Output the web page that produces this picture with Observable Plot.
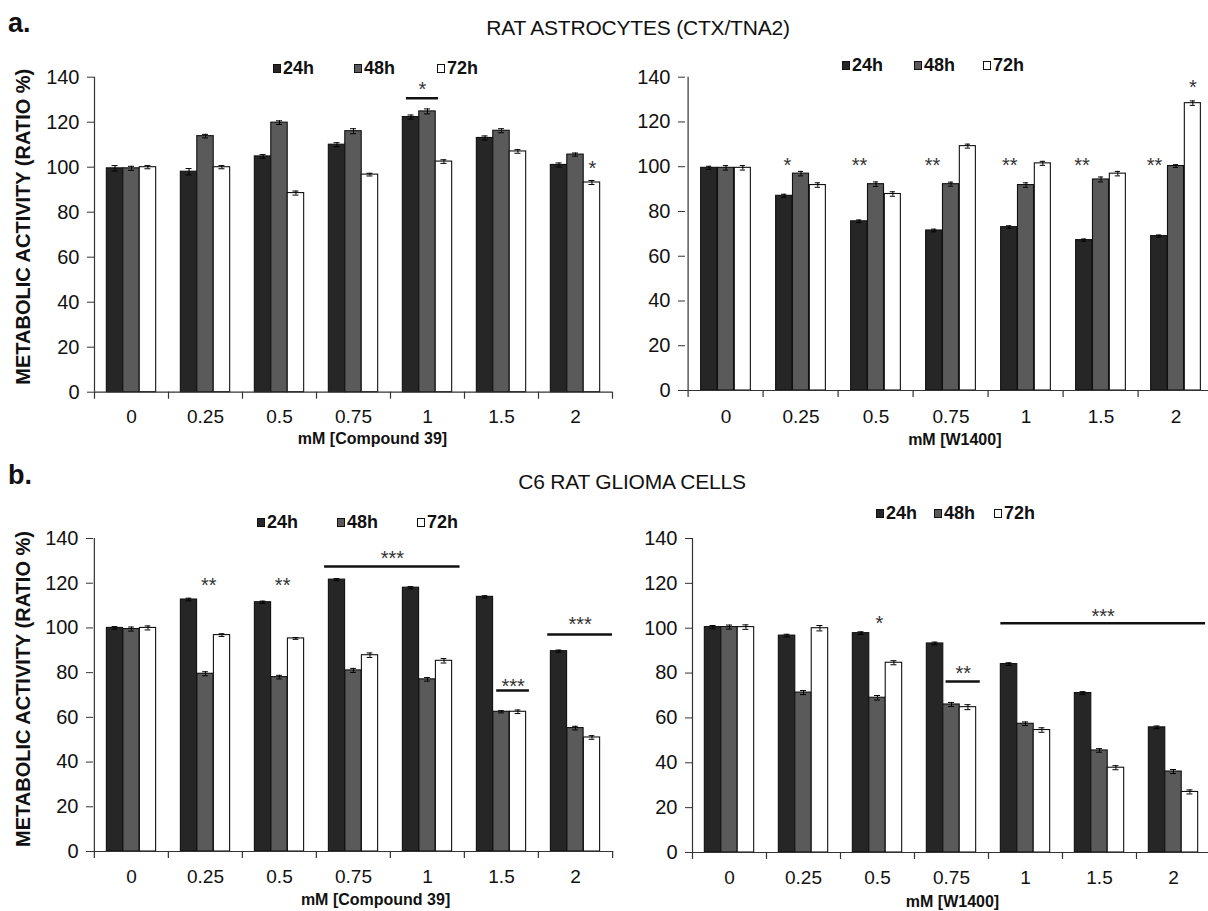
<!DOCTYPE html>
<html>
<head>
<meta charset="utf-8">
<script src="https://cdn.jsdelivr.net/npm/d3@7"></script>
<script src="https://cdn.jsdelivr.net/npm/@observablehq/plot@0.6"></script>
<style>
html, body { margin: 0; padding: 0; background: #fff; overflow: hidden; }
#wrap { position: relative; width: 1208px; height: 911px; overflow: hidden; font-family: "Liberation Sans", Arial, sans-serif; color: #111; background: #fff; }
.abs { position: absolute; white-space: nowrap; }
.ctr { transform: translateX(-50%); }
.panel { position: absolute; }
.panel svg { max-width: none !important; }
.lg { position: absolute; font-weight: bold; font-size: 18px; line-height: 18px; display: flex; align-items: center; white-space: nowrap; }
.sq { display: inline-block; width: 8px; height: 9px; border: 1px solid #111; box-sizing: border-box; margin-right: 2px; }
g[aria-label="stars"] text { letter-spacing: 2px; }
</style>
</head>
<body>
<div id="wrap"></div>
<script>
// ---------- data ----------
const doses = ["0", "0.25", "0.5", "0.75", "1", "1.5", "2"];
const times = ["24h", "48h", "72h"];
const timeColors = ["#262626", "#5a5a5a", "#ffffff"];

// a. Rat astrocytes, Compound 39
const aC39_24 = [99.5, 98, 104.8, 110, 122.3, 113, 101];
const aC39_48 = [99.5, 113.8, 119.8, 116, 124.8, 116.2, 105.6];
const aC39_72 = [100, 100, 88.5, 96.7, 102.5, 107, 93.2];
const aC39_e24 = [1.2, 1.4, 0.8, 0.9, 0.9, 0.9, 0.9];
const aC39_e48 = [0.9, 0.8, 0.8, 1.1, 1.1, 0.9, 0.7];
const aC39_e72 = [0.7, 0.7, 0.9, 0.6, 0.8, 0.8, 0.9];
const aC39_stars = [{d: "2", p: 2.03, y: 101.8, t: "*"}];
const aC39_lines = [{d1: "1", d2: "1", a: 0.22, b: 1.17, y: 130.7, t: "*", ty: 136.8}];

// a. Rat astrocytes, W1400
const aW_24 = [99.5, 87, 75.6, 71.5, 73, 67.2, 69];
const aW_48 = [99.5, 96.9, 92.2, 92.2, 91.8, 94.3, 100.3];
const aW_72 = [99.5, 91.8, 87.8, 109.2, 101.5, 96.9, 128.4];
const aW_e24 = [0.7, 0.7, 0.6, 0.6, 0.6, 0.5, 0.5];
const aW_e48 = [1.0, 1.0, 1.0, 0.9, 1.0, 1.1, 0.6];
const aW_e72 = [1.0, 1.0, 1.0, 0.9, 0.9, 1.0, 1.0];
const aW_stars = [
  {d: "0.25", p: 0.19, y: 102.8, t: "*"},
  {d: "0.5", p: 0.02, y: 102.8, t: "**"},
  {d: "0.75", p: -0.1, y: 102.8, t: "**"},
  {d: "1", p: 0.03, y: 102.8, t: "**"},
  {d: "1.5", p: -0.13, y: 102.8, t: "**"},
  {d: "2", p: -0.27, y: 102.8, t: "**"},
  {d: "2", p: 2, y: 137.7, t: "*"}
];
const aW_lines = [];

// b. C6 rat glioma, Compound 39
const bC39_24 = [100, 112.7, 111.5, 121.6, 118, 113.9, 89.6];
const bC39_48 = [99.5, 79.5, 78, 81, 77, 62.5, 55.2];
const bC39_72 = [100, 96.8, 95.3, 87.8, 85.3, 62.5, 51];
const bC39_e24 = [0.6, 0.6, 0.5, 0.5, 0.5, 0.5, 0.5];
const bC39_e48 = [0.9, 0.9, 0.8, 0.9, 0.8, 0.5, 0.8];
const bC39_e72 = [0.9, 0.6, 0.4, 1.0, 1.0, 0.8, 0.8];
const bC39_stars = [
  {d: "0.25", p: 1.2, y: 121.2, t: "**"},
  {d: "0.5", p: 1.19, y: 121.2, t: "**"}
];
const bC39_lines = [
  {d1: "0.75", d2: "1", a: -0.26, b: 2.48, y: 127.5, t: "***", ty: 133.4},
  {d1: "1.5", d2: "1.5", a: 1.2, b: 2.2, y: 72, t: "***", ty: 75.9},
  {d1: "2", d2: "2", a: -0.19, b: 2.75, y: 97.1, t: "***", ty: 103.6}
];

// b. C6 rat glioma, W1400
const bW_24 = [100.5, 96.7, 97.8, 93.2, 84, 71.1, 55.8];
const bW_48 = [100.5, 71.3, 69, 66, 57.4, 45.5, 36.1];
const bW_72 = [100.5, 100, 84.6, 64.8, 54.6, 37.8, 27];
const bW_e24 = [0.7, 0.6, 0.6, 0.6, 0.6, 0.6, 0.6];
const bW_e48 = [0.9, 0.9, 1.0, 0.9, 0.8, 0.8, 0.9];
const bW_e72 = [1.0, 1.2, 0.9, 1.1, 1.0, 0.9, 0.9];
const bW_stars = [{d: "0.5", p: 1.12, y: 104.2, t: "*"}];
const bW_lines = [
  {d1: "0.75", d2: "0.75", a: 1.17, b: 2.25, y: 76.2, t: "**", ty: 81.9},
  {d1: "1", d2: "2", a: 0, b: 2.45, y: 102.2, t: "***", ty: 107.4}
];

const yTicks = [0, 20, 40, 60, 80, 100, 120, 140];
const yTitle = "METABOLIC ACTIVITY (RATIO %)";

// ---------- drawing ----------
const wrap = document.getElementById("wrap");
const FONT = '"Liberation Sans", Arial, sans-serif';

function panel(cfg) {
  const {left, top, width, height, ml, mr, mt, mb, vals, errs, stars, lines, xTitle, xTitleDx, xTitleDy, tickPad, showY, yDx, yDy} = cfg;
  const step = (width - ml - mr) / doses.length;
  const bw = step * 0.2222;
  const off = (step - 3 * bw) / 2;
  const cap = 6;
  const marks = [];

  // bars
  vals.forEach((v, p) => {
    marks.push(Plot.barY(doses, {
      x: d => d, y: (d, i) => v[i], fill: timeColors[p], stroke: "#111", strokeWidth: 1.1,
      insetLeft: off + p * bw, insetRight: off + (2 - p) * bw
    }));
  });
  // error bars
  vals.forEach((v, p) => {
    const e = errs[p];
    const il = off + p * bw + (bw - cap) / 2;
    const ir = step - il - cap;
    marks.push(Plot.ruleX(doses, {x: d => d, y1: (d, i) => v[i] - e[i], y2: (d, i) => v[i] + e[i], dx: (p - 1) * bw, stroke: "#000", strokeWidth: 1}));
    marks.push(Plot.tickY(doses, {x: d => d, y: (d, i) => v[i] + e[i], insetLeft: il, insetRight: ir, stroke: "#000", strokeWidth: 1}));
    marks.push(Plot.tickY(doses, {x: d => d, y: (d, i) => v[i] - e[i], insetLeft: il, insetRight: ir, stroke: "#000", strokeWidth: 1}));
  });

  // axes lines and boundary ticks
  marks.push(Plot.ruleY([0], {stroke: "#333", strokeWidth: 1.2}));
  marks.push(Plot.ruleX([doses[0]], {x: d => d, dx: -step / 2, y1: 0, y2: 140, stroke: "#333", strokeWidth: 1.2}));
  marks.push(Plot.ruleX(doses, {x: d => d, dx: -step / 2, y1: 0, y2: 0, insetBottom: -7, stroke: "#333", strokeWidth: 1.2}));
  marks.push(Plot.ruleX([doses[doses.length - 1]], {x: d => d, dx: step / 2, y1: 0, y2: 0, insetBottom: -7, stroke: "#333", strokeWidth: 1.2}));
  marks.push(Plot.axisY({ticks: yTicks, tickSize: 7, tickPadding: 8, fontSize: 20, label: null, stroke: "#333"}));
  marks.push(Plot.axisX({tickSize: 0, tickPadding: tickPad, fontSize: 19, label: null}));

  // axis titles
  marks.push(Plot.text([xTitle], {frameAnchor: "bottom", lineAnchor: "middle", textAnchor: "middle", dx: xTitleDx, dy: xTitleDy, fontSize: 16, fontWeight: "bold", fill: "#111"}));
  if (showY) {
    marks.push(Plot.text([yTitle], {frameAnchor: "left", textAnchor: "middle", lineAnchor: "middle", rotate: -90, dx: yDx, dy: yDy, fontSize: 20, fontWeight: "bold", fill: "#111"}));
  }

  // significance marks
  stars.forEach(s => {
    marks.push(Plot.text([s], {x: "d", y: "y", text: "t", dx: (s.p - 1) * bw, dy: 5, fontSize: 20, fill: "#333", ariaLabel: "stars"}));
  });
  lines.forEach(l => {
    const il = off + l.a * bw;
    const ir = off + (2 - l.b) * bw;
    const n = doses.indexOf(l.d2) - doses.indexOf(l.d1) + 1;
    const mid = il + (n * step - il - ir) / 2 - step / 2;
    marks.push(Plot.ruleY([l], {x1: "d1", x2: "d2", y: "y", insetLeft: il, insetRight: ir, stroke: "#111", strokeWidth: 2.5}));
    marks.push(Plot.text([l], {x: "d1", y: "ty", text: "t", dx: mid, dy: 5, fontSize: 20, fill: "#333", ariaLabel: "stars"}));
  });

  const chart = Plot.plot({
    width, height,
    marginLeft: ml, marginRight: mr, marginTop: mt, marginBottom: mb,
    style: {background: "transparent", fontFamily: FONT, fontSize: "20px", color: "#111", overflow: "visible", maxWidth: "none"},
    x: {type: "band", domain: doses, padding: 0, axis: null},
    y: {domain: [0, 140], axis: null},
    marks
  });
  const div = document.createElement("div");
  div.className = "panel";
  div.style.left = left + "px";
  div.style.top = top + "px";
  div.style.width = width + "px";
  div.style.height = height + "px";
  div.appendChild(chart);
  wrap.appendChild(div);
}

function text(str, x, y, size, weight, center, extra) {
  const d = document.createElement("div");
  d.className = "abs" + (center ? " ctr" : "");
  d.textContent = str;
  d.style.left = x + "px";
  d.style.top = y + "px";
  d.style.fontSize = size + "px";
  d.style.lineHeight = size + "px";
  d.style.fontWeight = weight;
  if (extra) Object.assign(d.style, extra);
  wrap.appendChild(d);
}

function legend(xs, yc) {
  times.forEach((t, i) => {
    const d = document.createElement("div");
    d.className = "lg";
    d.style.left = xs[i] + "px";
    d.style.top = (yc - 9) + "px";
    const sq = document.createElement("span");
    sq.className = "sq";
    sq.style.background = timeColors[i];
    d.appendChild(sq);
    d.appendChild(document.createTextNode(t));
    wrap.appendChild(d);
  });
}

panel({left: 0, top: 40, width: 620, height: 420, ml: 94, mr: 8, mt: 36.7, mb: 68.3,
  vals: [aC39_24, aC39_48, aC39_72], errs: [aC39_e24, aC39_e48, aC39_e72],
  stars: aC39_stars, lines: aC39_lines, xTitle: "mM [Compound 39]", xTitleDx: 19, xTitleDy: 47,
  tickPad: 17, showY: true, yDx: -71, yDy: -8});
panel({left: 620, top: 40, width: 600, height: 420, ml: 65, mr: 4.4, mt: 36.7, mb: 70,
  vals: [aW_24, aW_48, aW_72], errs: [aW_e24, aW_e48, aW_e72],
  stars: aW_stars, lines: aW_lines, xTitle: "mM [W1400]", xTitleDx: 4, xTitleDy: 49,
  tickPad: 18.5, showY: false});
panel({left: 0, top: 500, width: 620, height: 411, ml: 93, mr: 6.9, mt: 38, mb: 60,
  vals: [bC39_24, bC39_48, bC39_72], errs: [bC39_e24, bC39_e48, bC39_e72],
  stars: bC39_stars, lines: bC39_lines, xTitle: "mM [Compound 39]", xTitleDx: 22, xTitleDy: 48.5,
  tickPad: 18, showY: true, yDx: -70, yDy: -6});
panel({left: 620, top: 500, width: 600, height: 411, ml: 72, mr: 10, mt: 38, mb: 59,
  vals: [bW_24, bW_48, bW_72], errs: [bW_e24, bW_e48, bW_e72],
  stars: bW_stars, lines: bW_lines, xTitle: "mM [W1400]", xTitleDx: 1, xTitleDy: 49,
  tickPad: 18, showY: false});

// titles
text("a.", 8, 10, 27, "bold", false);
text("b.", 8, 462, 27, "bold", false);
text("RAT ASTROCYTES (CTX/TNA2)", 638, 17, 21, "normal", true, {letterSpacing: "-0.2px"});
text("C6 RAT GLIOMA CELLS", 632, 471, 21, "normal", true, {letterSpacing: "-0.2px"});

// legends
legend([273, 354, 437], 68);
legend([842, 914, 983], 65);
legend([257, 337, 417], 522);
legend([876, 934, 994], 513);
</script>
</body>
</html>
